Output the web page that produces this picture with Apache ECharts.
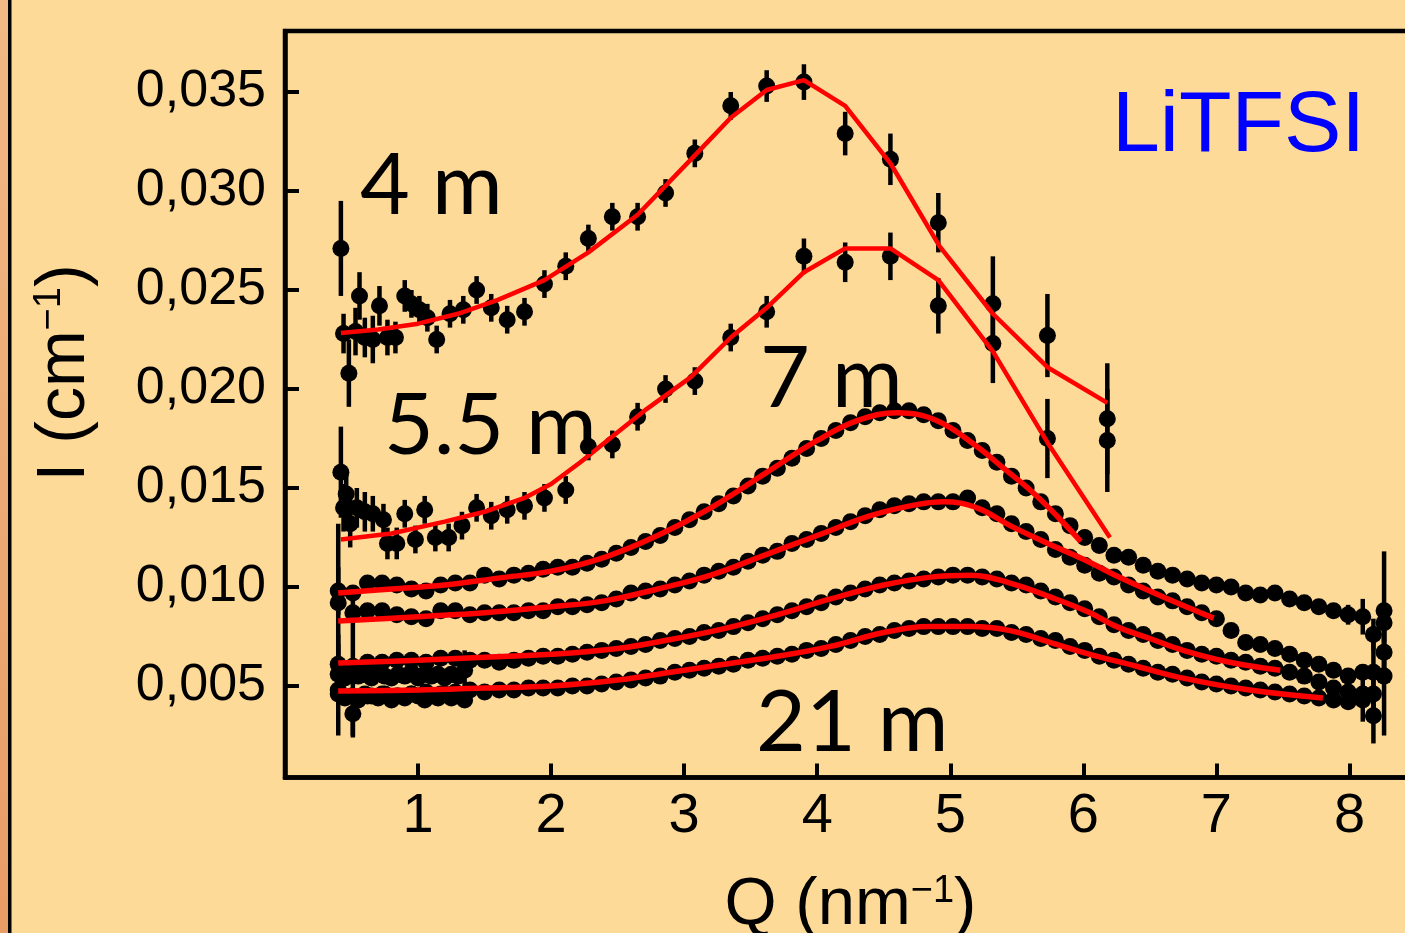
<!DOCTYPE html>
<html><head><meta charset="utf-8">
<script src="https://cdn.jsdelivr.net/npm/echarts@6.0.0/dist/echarts.min.js"></script>
<style>html,body{margin:0;padding:0;background:#FEDA98;} #c{width:1405px;height:933px;}</style>
</head><body><div id="c"></div>
<script>
// ---------- axis ticks ----------
const xTicks = [1, 2, 3, 4, 5, 6, 7, 8];
const yTicks = [0.005, 0.010, 0.015, 0.020, 0.025, 0.030, 0.035];

// ---------- 4 m (sparse, with error bars) ----------
const q4m = [0.42,0.44,0.48,0.53,0.56,0.60,0.66,0.71,0.77,0.83,0.90,0.95,1.01,1.07,1.14,1.24,1.34,1.44,1.55,1.67,1.80,1.95,2.11,2.28,2.46,2.65,2.86,3.08,3.35,3.62,3.90,4.21,4.55,4.91,5.32,5.73,6.18];
const i4m = [0.0271,0.0228,0.0208,0.0229,0.0247,0.0226,0.0225,0.0242,0.0226,0.0226,0.0247,0.0243,0.0240,0.0236,0.0225,0.0238,0.0240,0.0250,0.0241,0.0235,0.0239,0.0253,0.0262,0.0276,0.0287,0.0287,0.0299,0.0319,0.0343,0.0353,0.0355,0.0329,0.0316,0.0284,0.0243,0.0227,0.0185];
const e4m = [0.0024,0.0010,0.0017,0.0012,0.0012,0.0010,0.0012,0.0010,0.0009,0.0008,0.0008,0.0007,0.0007,0.0007,0.0007,0.0007,0.0007,0.0007,0.0007,0.0007,0.0007,0.0007,0.0007,0.0007,0.0007,0.0007,0.0007,0.0007,0.0007,0.0008,0.0009,0.0011,0.0013,0.0015,0.0024,0.0021,0.0028];
const qFit4m = [0.42,0.70,1.00,1.30,1.60,1.95,2.28,2.65,3.08,3.35,3.62,3.90,4.21,4.55,4.92,5.32,5.73,6.18];
const iFit4m = [0.02283,0.0230,0.0233,0.0238,0.0245,0.0255,0.0269,0.0288,0.0318,0.0337,0.0351,0.0356,0.0343,0.0314,0.0272,0.0238,0.0211,0.0193];

// ---------- 5.5 m (sparse, with error bars) ----------
const q55m = [0.42,0.44,0.46,0.49,0.54,0.60,0.66,0.74,0.77,0.84,0.90,0.98,1.05,1.13,1.23,1.33,1.44,1.55,1.67,1.80,1.95,2.11,2.28,2.46,2.65,2.86,3.08,3.35,3.62,3.90,4.21,4.55,4.91,5.32,5.73,6.18];
const i55m = [0.0158,0.0140,0.0147,0.0132,0.0140,0.0138,0.0137,0.0134,0.0122,0.0122,0.0137,0.0124,0.0139,0.0125,0.0125,0.0131,0.0140,0.0136,0.0139,0.0141,0.0145,0.0149,0.0171,0.0172,0.0186,0.0200,0.0204,0.0226,0.0239,0.0267,0.0264,0.0267,0.0242,0.0223,0.0175,0.0174];
const e55m = [0.0023,0.0012,0.0012,0.0012,0.0010,0.0010,0.0009,0.0008,0.0008,0.0008,0.0007,0.0007,0.0007,0.0007,0.0007,0.0007,0.0007,0.0007,0.0007,0.0007,0.0007,0.0007,0.0007,0.0007,0.0007,0.0007,0.0007,0.0007,0.0008,0.0009,0.0010,0.0012,0.0014,0.0020,0.0020,0.0026];
const qFit55m = [0.42,0.80,1.20,1.50,1.80,2.00,2.22,2.46,2.72,3.05,3.35,3.62,3.90,4.21,4.55,4.91,5.32,5.73,6.20];
const iFit55m = [0.0124,0.0127,0.0133,0.0138,0.0145,0.0152,0.0163,0.0176,0.0190,0.0206,0.0226,0.0241,0.0259,0.0271,0.0271,0.0255,0.0219,0.0173,0.0125];

// ---------- dense sets (7 m ... 21 m) share one Q grid ----------
const qDense = [0.40,0.51,0.62,0.73,0.84,0.95,1.06,1.17,1.28,1.39,1.50,1.61,1.72,1.83,1.94,2.05,2.16,2.27,2.38,2.49,2.60,2.71,2.82,2.93,3.04,3.15,3.26,3.37,3.48,3.59,3.70,3.81,3.92,4.03,4.14,4.25,4.36,4.47,4.58,4.69,4.80,4.91,5.02,5.13,5.24,5.35,5.46,5.57,5.68,5.79,5.90,6.01,6.12,6.23,6.34,6.45,6.56,6.67,6.78,6.89,7.00,7.11,7.22,7.33,7.44,7.55,7.66,7.77,7.88,7.99,8.10,8.18,8.26];
const i7m = [0.0098,0.0097,0.0102,0.0102,0.0101,0.0099,0.0098,0.0101,0.0102,0.0102,
  0.0106,0.0104,0.0106,0.0107,0.0109,0.0110,0.0110,0.0112,0.0114,0.0117,
  0.0120,0.0123,0.0126,0.0130,0.0134,0.0138,0.0142,0.0146,0.0151,0.0156,
  0.0160,0.0165,0.0170,0.0175,0.0179,0.0183,0.0186,0.0188,0.0189,0.0189,
  0.0187,0.0184,0.0179,0.0174,0.0169,0.0163,0.0156,0.0150,0.0143,0.0137,
  0.0131,0.0125,0.0121,0.0116,0.0115,0.0111,0.0108,0.0106,0.0104,0.0102,
  0.0101,0.0100,0.0097,0.0096,0.0097,0.0094,0.0092,0.0090,0.0088,0.0086,
  0.0085,0.0076,0.0088];
const iSetB = [0.0092,0.0087,0.0088,0.0088,0.0086,0.0085,0.0084,0.0088,0.0088,0.0086,
  0.0087,0.0087,0.0087,0.0088,0.0088,0.0090,0.0090,0.0091,0.0092,0.0094,
  0.0097,0.0098,0.0099,0.0101,0.0103,0.0106,0.0108,0.0110,0.0113,0.0116,
  0.0118,0.0122,0.0124,0.0127,0.0130,0.0133,0.0136,0.0139,0.0141,0.0142,
  0.0143,0.0143,0.0143,0.0145,0.0140,0.0137,0.0132,0.0128,0.0124,0.0119,
  0.0115,0.0111,0.0107,0.0105,0.0101,0.0098,0.0095,0.0093,0.0090,0.0087,
  0.0084,0.0078,0.0072,0.0071,0.0069,0.0066,0.0063,0.0061,0.0058,0.0055,
  0.0057,0.0057,0.0082];
const iSetC = [0.0061,0.0060,0.0062,0.0062,0.0063,0.0063,0.0062,0.0064,0.0064,0.0063,
  0.0063,0.0062,0.0063,0.0064,0.0065,0.0065,0.0066,0.0067,0.0068,0.0069,
  0.0070,0.0071,0.0073,0.0074,0.0075,0.0077,0.0078,0.0080,0.0082,0.0084,
  0.0086,0.0088,0.0090,0.0092,0.0095,0.0097,0.0099,0.0101,0.0102,0.0103,
  0.0104,0.0105,0.0106,0.0106,0.0105,0.0104,0.0102,0.0101,0.0098,0.0095,
  0.0092,0.0089,0.0085,0.0081,0.0078,0.0076,0.0073,0.0071,0.0068,0.0066,
  0.0065,0.0063,0.0062,0.0060,0.0059,0.0057,0.0055,0.0052,0.0049,0.0047,
  0.0046,0.0046,0.0067];
const i21m = [0.0048,0.0036,0.0045,0.0046,0.0045,0.0046,0.0047,0.0046,0.0047,0.0048,
  0.0047,0.0048,0.0048,0.0049,0.0049,0.0049,0.0050,0.0050,0.0051,0.0052,
  0.0053,0.0054,0.0055,0.0057,0.0058,0.0059,0.0060,0.0061,0.0063,0.0064,
  0.0065,0.0066,0.0068,0.0069,0.0071,0.0073,0.0075,0.0076,0.0078,0.0079,
  0.0080,0.0080,0.0080,0.0080,0.0079,0.0079,0.0077,0.0076,0.0074,0.0073,
  0.0070,0.0068,0.0065,0.0063,0.0061,0.0059,0.0057,0.0056,0.0054,0.0052,
  0.0051,0.0050,0.0049,0.0048,0.0047,0.0046,0.0045,0.0044,0.0043,0.0042,
  0.0043,0.0035,0.0055];
// error bars on a few dense points: [index into qDense, half-length]
const e7m  = [[0,0.0012],[69,0.0005],[70,0.0009],[71,0.0008],[72,0.0030]];
const eSetB = [[0,0.0040],[71,0.0020],[72,0.0010]];
const eSetC = [[0,0.0015],[1,0.0035],[70,0.0014],[71,0.0012],[72,0.0012]];
const e21m = [[0,0.0023],[1,0.0012],[71,0.0014],[72,0.0030]];
// extra low-Q points of the two lowest sets
const qLow = [0.40,0.45,0.50,0.55,0.60,0.65,0.70,0.75,0.80,0.85,0.90,0.95,1.00,1.05,1.10,1.15,1.20,1.25,1.30,1.35];
const iSetCLow = [0.0056,0.0054,0.0057,0.0055,0.0056,0.0054,0.0057,0.0055,0.0054,0.0056,0.0055,0.0057,0.0054,0.0056,0.0055,0.0056,0.0054,0.0056,0.0055,0.0058];
const eSetCLow = [0.0004,0.0004,0.0004,0.0004,0.0004,0.0004,0.0004,0.0004,0.0004,0.0004,0.0004,0.0004,0.0004,0.0004,0.0004,0.0004,0.0004,0.0004,0.0004,0.0010];
const i21mLow = [0.0046,0.0044,0.0045,0.0043,0.0046,0.0045,0.0044,0.0046,0.0043,0.0045,0.0044,0.0046,0.0045,0.0043,0.0045,0.0044,0.0046,0.0044,0.0045,0.0043];
const e21mLow = [0.0004,0.0004,0.0004,0.0004,0.0004,0.0004,0.0004,0.0004,0.0004,0.0004,0.0004,0.0004,0.0004,0.0004,0.0004,0.0004,0.0004,0.0004,0.0004,0.0004];

// fits of dense sets
const qFit7m = [0.40,0.80,1.20,1.60,2.00,2.40,2.80,3.20,3.60,4.00,4.30,4.60,4.90,5.20,5.40,5.60,5.80,5.98];
const iFit7m = [0.0097,0.0099,0.0101,0.01045,0.0108,0.0115,0.0126,0.0140,0.0157,0.0174,0.0184,0.0188,0.0184,0.0171,0.0160,0.0149,0.0136,0.0123];
const qFitB = [0.40,1.00,1.50,2.00,2.40,2.80,3.20,3.60,4.00,4.40,4.70,4.95,5.20,5.45,5.70,6.00,6.30,6.60,6.98];
const iFitB = [0.00828,0.0085,0.0087,0.0090,0.0093,0.0099,0.0106,0.0116,0.0126,0.0136,0.0141,0.0143,0.0140,0.0131,0.0123,0.0114,0.0104,0.0095,0.00843];
const qFitC = [0.40,1.00,1.50,2.00,2.50,2.90,3.30,3.70,4.10,4.50,4.85,5.15,5.45,5.75,6.05,6.25,6.50,6.75,7.10,7.48];
const iFitC = [0.00616,0.0063,0.00645,0.0066,0.0069,0.00735,0.0079,0.0086,0.0094,0.0101,0.0105,0.0106,0.0102,0.0095,0.0087,0.0080,0.0074,0.0068,0.0062,0.0058];
const qFit21m = [0.40,1.00,1.50,2.00,2.50,2.90,3.30,3.70,4.10,4.50,4.85,5.15,5.45,5.75,6.05,6.40,6.75,7.25,7.80];
const iFit21m = [0.00475,0.0048,0.0049,0.0050,0.0053,0.0057,0.0061,0.0065,0.0070,0.0077,0.0080,0.0080,0.0078,0.0072,0.0066,0.0060,0.0054,0.0048,0.0044];

// ---------- build ----------
const BG = '#FEDA98';
const series = [];
function errRender(params, api) {
  const a = api.coord([api.value(0), api.value(1)]);
  const b = api.coord([api.value(0), api.value(2)]);
  return {type: 'line', shape: {x1: a[0], y1: a[1], x2: b[0], y2: b[1]}, style: {stroke: '#000', lineWidth: 4.5}};
}
function addSet(qs, vs, es, size) {
  series.push({type: 'custom', renderItem: errRender, silent: true, z: 2,
    encode: {x: 0, y: [1, 2]},
    data: qs.map((q, k) => [q, vs[k] - es[k], vs[k] + es[k]]).filter((d, k) => es[k] > 0)});
  series.push({type: 'scatter', silent: true, z: 3, symbol: 'circle', symbolSize: size,
    itemStyle: {color: '#000', opacity: 1},
    data: qs.map((q, k) => [q, vs[k]])});
}
function addDense(vs, ePairs) {
  series.push({type: 'custom', renderItem: errRender, silent: true, z: 2,
    encode: {x: 0, y: [1, 2]},
    data: ePairs.map(p => [qDense[p[0]], vs[p[0]] - p[1], vs[p[0]] + p[1]])});
  series.push({type: 'scatter', silent: true, z: 3, symbol: 'circle', symbolSize: 17,
    itemStyle: {color: '#000', opacity: 1}, data: qDense.map((q, k) => [q, vs[k]])});
}
function addFit(qs, vs, width, smooth) {
  series.push({type: 'line', silent: true, z: 6, showSymbol: false, symbol: 'none', smooth: smooth,
    lineStyle: {color: '#FF0000', width: width, opacity: 1}, data: qs.map((q, k) => [q, vs[k]])});
}

addSet(q4m, i4m, e4m, 17);
addSet(q55m, i55m, e55m, 17);
addSet(qLow, iSetCLow, eSetCLow, 17);
addSet(qLow, i21mLow, e21mLow, 17);
addDense(i7m, e7m);
addDense(iSetB, eSetB);
addDense(iSetC, eSetC);
addDense(i21m, e21m);
addFit(qFit4m, iFit4m, 4.5, false);
addFit(qFit55m, iFit55m, 4.5, false);
addFit(qFit7m, iFit7m, 5.5, 0.4);
addFit(qFitB, iFitB, 5.5, 0.4);
addFit(qFitC, iFitC, 5.5, 0.4);
addFit(qFit21m, iFit21m, 5.5, 0.4);

const annFont = 'Lato, "Open Sans", sans-serif';
const axFont = '"Liberation Sans", Arial, Helvetica, sans-serif';

const chart = echarts.init(document.getElementById('c'), null, {renderer: 'canvas'});
chart.setOption({
  backgroundColor: BG,
  animation: false,
  grid: {left: 285, top: 31, width: 1131, height: 746.5, show: true, borderColor: '#000', borderWidth: 4.5,
    backgroundColor: 'transparent', containLabel: false, outerBoundsMode: 'none'},
  xAxis: {
    type: 'value', min: 0, max: 8.5,
    axisLine: {show: true, onZero: false, lineStyle: {color: '#000', width: 4.5}},
    axisTick: {show: true, inside: true, length: 14, customValues: xTicks, lineStyle: {color: '#000', width: 4}},
    axisLabel: {customValues: xTicks, fontSize: 56, color: '#000', fontFamily: axFont, margin: 11},
    splitLine: {show: false},
    name: '{n|Q (nm}{s|−1}{n|)}',
    nameLocation: 'middle', nameGap: 95,
    nameTextStyle: {rich: {
      n: {fontSize: 67, fontFamily: axFont, color: '#000'},
      s: {fontSize: 38, fontFamily: axFont, color: '#000', verticalAlign: 'top'}
    }}
  },
  yAxis: {
    type: 'value', min: 0.00038, max: 0.03808,
    axisLine: {show: true, onZero: false, lineStyle: {color: '#000', width: 4.5}},
    axisTick: {show: true, inside: true, length: 14, customValues: yTicks, lineStyle: {color: '#000', width: 4}},
    axisLabel: {customValues: yTicks, fontSize: 52, color: '#000', fontFamily: axFont, margin: 19,
      formatter: v => v.toFixed(3).replace('.', ',')},
    splitLine: {show: false}
  },
  graphic: [
    {type: 'rect', shape: {x: 0, y: 0, width: 8, height: 933}, silent: true,
      style: {fill: new echarts.graphic.LinearGradient(0, 0, 0, 1, [{offset: 0, color: '#F1B985'}, {offset: 1, color: '#E89C66'}])}},
    {type: 'rect', shape: {x: 8, y: 0, width: 3.5, height: 933}, silent: true, style: {fill: '#000'}},
    {type: 'text', x: 65, y: 373, rotation: Math.PI / 2, silent: true,
      style: {text: '{n|I (cm}{s|−1}{n|)}', align: 'center', verticalAlign: 'middle',
        rich: {n: {fontSize: 68, fontFamily: axFont, fill: '#000'},
               s: {fontSize: 38, fontFamily: axFont, fill: '#000', verticalAlign: 'top'}}}},
    {type: 'text', x: 360, y: 186, silent: true, z: 10,
      style: {text: '4 m', fontSize: 86, fontFamily: annFont, fill: '#000', align: 'left', verticalAlign: 'middle'}},
    {type: 'text', x: 384, y: 426, silent: true, z: 10,
      style: {text: '5.5 m', fontSize: 86, fontFamily: annFont, fill: '#000', align: 'left', verticalAlign: 'middle'}},
    {type: 'text', x: 760, y: 379, silent: true, z: 10,
      style: {text: '7 m', fontSize: 86, fontFamily: annFont, fill: '#000', align: 'left', verticalAlign: 'middle'}},
    {type: 'text', x: 756, y: 723, silent: true, z: 10,
      style: {text: '21 m', fontSize: 86, fontFamily: annFont, fill: '#000', align: 'left', verticalAlign: 'middle'}},
    {type: 'text', x: 1112, y: 127, silent: true, z: 10,
      style: {text: 'LiTFSI', fontSize: 86, fontFamily: axFont, fill: '#0000FF', align: 'left', verticalAlign: 'middle'}}
  ],
  series: series
});
</script></body></html>
